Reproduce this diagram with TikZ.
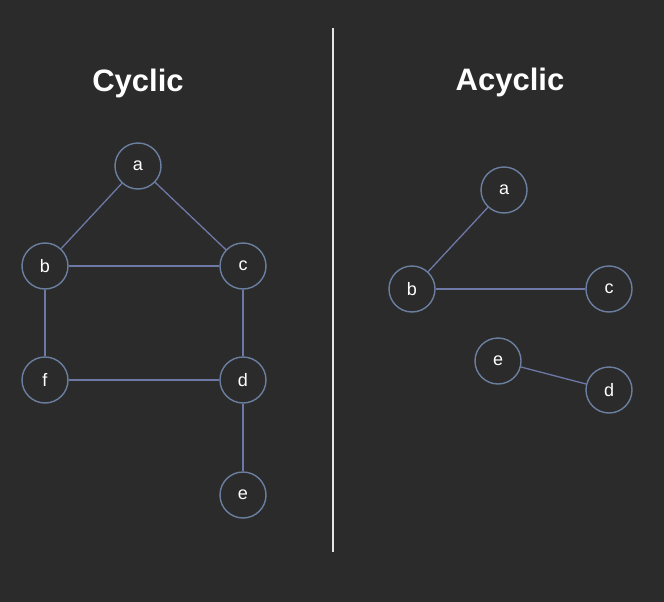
\documentclass[tikz,border=0pt]{standalone}
\usepackage{fontspec}
\setmainfont{Liberation Sans}
\begin{document}
\begin{tikzpicture}[x=1pt,y=-1pt,
  vtx/.style={circle,draw=nodeblue,line width=1.4pt,minimum size=46pt,inner sep=0pt,text=white,font=\fontsize{18}{20}\selectfont},
  edge/.style={draw=edgeblue,line width=1.3pt},
  ttl/.style={text=white,font=\bfseries\fontsize{31}{34}\selectfont}]
\definecolor{bg}{HTML}{2B2B2B}
\definecolor{nodeblue}{HTML}{6B7FA0}
\definecolor{edgeblue}{HTML}{6E78A6}
\fill[bg] (0,0) rectangle (664,602);
\useasboundingbox (0,0) rectangle (664,602);
\coordinate (top) at (333,28);
\coordinate (bot) at (333,552);
\draw[white!90!black,line width=1.3pt] (top) -- (bot);
\node[ttl] (t1) at (138,83) {Cyclic};
\node[ttl] (t2) at (510,82) {Acyclic};
% cyclic
\node[vtx] (a) at (138,166) {a};
\node[vtx] (b) at (45,266) {b};
\node[vtx] (c) at (243,266) {c};
\node[vtx] (f) at (45,380) {f};
\node[vtx] (d) at (243,380) {d};
\node[vtx] (e) at (243,495) {e};
\draw[edge] (a) -- (b);
\draw[edge] (a) -- (c);
\draw[edge] (b) -- (c);
\draw[edge] (b) -- (f);
\draw[edge] (c) -- (d);
\draw[edge] (f) -- (d);
\draw[edge] (d) -- (e);
% acyclic
\node[vtx] (a2) at (504,190) {a};
\node[vtx] (b2) at (412,289) {b};
\node[vtx] (c2) at (609,289) {c};
\node[vtx] (e2) at (498,361) {e};
\node[vtx] (d2) at (609,390) {d};
\draw[edge] (a2) -- (b2);
\draw[edge] (b2) -- (c2);
\draw[edge] (e2) -- (d2);
\end{tikzpicture}
\end{document}
